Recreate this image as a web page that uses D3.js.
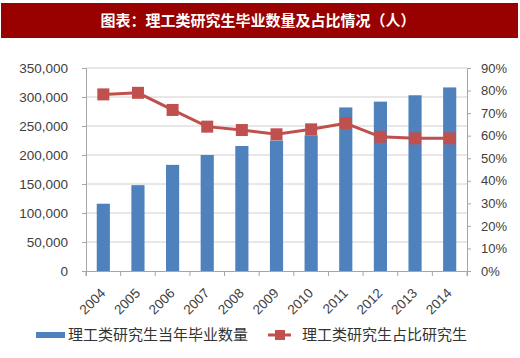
<!DOCTYPE html>
<html><head><meta charset="utf-8">
<script src="https://cdn.jsdelivr.net/npm/d3@7"></script>
<style>body{margin:0;background:#fff}svg{display:block}</style>
</head><body>
<svg id="c" width="520" height="358"></svg>
<script>
const years = ["2004","2005","2006","2007","2008","2009","2010","2011","2012","2013","2014"];
const graduates = [116000,148000,183000,200000,215500,225000,234000,282000,292000,303000,316500];
const shares = [78.3,79.0,71.4,64.0,62.5,60.6,62.8,65.5,59.5,58.8,58.8];
const leftTicks = [0,50000,100000,150000,200000,250000,300000,350000];
const rightTicks = [0,10,20,30,40,50,60,70,80,90];
const title = "图表：理工类研究生毕业数量及占比情况（人）";
const legendBar = "理工类研究生当年毕业数量";
const legendLine = "理工类研究生占比研究生";

const svg = d3.select("#c");
const m = {l:86, r:467, t:68, b:271};
const x = d3.scaleBand().domain(years).range([m.l, m.r]).paddingInner(0.62).paddingOuter(0.31);
const xc = d3.scaleBand().domain(years).range([m.l, m.r]);
const y = d3.scaleLinear().domain([0,350000]).range([m.b, m.t]);
const y2 = d3.scaleLinear().domain([0,90]).range([m.b, m.t]);

// title bar
svg.append("rect").attr("x",1).attr("y",3).attr("width",517).attr("height",35).attr("fill","#990000");
svg.append("text").attr("x",258).attr("y",26).attr("text-anchor","middle")
  .attr("fill","#fff").attr("font-family","Noto Sans CJK SC").attr("font-weight","bold")
  .attr("font-size",15).text(title);

// gridlines
svg.append("g").selectAll("line").data(leftTicks.slice(1)).join("line")
  .attr("x1",m.l).attr("x2",m.r).attr("y1",d=>y(d)).attr("y2",d=>y(d))
  .attr("stroke","#d0d0d0").attr("stroke-width",1);

// bars
svg.append("g").selectAll("rect").data(years).join("rect")
  .attr("x",d=>x(d)).attr("width",x.bandwidth())
  .attr("y",(d,i)=>y(graduates[i])).attr("height",(d,i)=>m.b-y(graduates[i]))
  .attr("fill","#4F81BD");

// axes
const font = "Liberation Sans, Arial, sans-serif";
const la = svg.append("g").attr("transform",`translate(${m.l},0)`)
  .call(d3.axisLeft(y).tickValues(leftTicks).tickFormat(d3.format(",")).tickSize(4).tickPadding(14));
const ra = svg.append("g").attr("transform",`translate(${m.r},0)`)
  .call(d3.axisRight(y2).tickValues(rightTicks).tickFormat(d=>d+"%").tickSize(4).tickPadding(10));
const ba = svg.append("g").attr("transform",`translate(0,${m.b})`)
  .call(d3.axisBottom(xc).tickSize(5).tickFormat(""));
ba.selectAll(".tick").remove();
const bt = [m.l].concat(years.map(d=>xc(d)+xc.bandwidth()));
ba.selectAll("line.bt").data(bt).join("line").attr("class","bt")
  .attr("x1",d=>d).attr("x2",d=>d).attr("y1",0).attr("y2",5).attr("stroke","#a6a6a6");
[la,ra,ba].forEach(g=>{
  g.selectAll("path.domain").attr("stroke","#a6a6a6");
  g.selectAll(".tick line").attr("stroke","#a6a6a6");
  g.selectAll("text").attr("font-family",font).attr("font-size",13.5).attr("fill","#404040");
});
ra.selectAll("text").attr("font-size",13);

// x labels rotated
svg.append("g").selectAll("text").data(years).join("text")
  .attr("transform",d=>`translate(${xc(d)+xc.bandwidth()/2+3},${m.b+23}) rotate(-45)`)
  .attr("text-anchor","end").attr("font-family",font).attr("font-size",13.5).attr("fill","#404040")
  .text(d=>d);

// line
const line = d3.line().x((d,i)=>xc(years[i])+xc.bandwidth()/2).y(d=>y2(d));
svg.append("path").datum(shares).attr("d",line).attr("fill","none")
  .attr("stroke","#C0504D").attr("stroke-width",3);
svg.append("g").selectAll("rect").data(shares).join("rect")
  .attr("x",(d,i)=>xc(years[i])+xc.bandwidth()/2-6).attr("y",d=>y2(d)-6)
  .attr("width",12).attr("height",12).attr("fill","#C0504D");

// legend
const lg = svg.append("g");
lg.append("rect").attr("x",36).attr("y",332).attr("width",29).attr("height",6).attr("fill","#4F81BD");
lg.append("text").attr("x",68).attr("y",340).attr("font-family","Noto Sans CJK SC").attr("font-size",15)
  .attr("fill","#333").text(legendBar);
lg.append("line").attr("x1",268).attr("x2",291).attr("y1",335).attr("y2",335).attr("stroke","#C0504D").attr("stroke-width",3);
lg.append("rect").attr("x",275).attr("y",330).attr("width",10).attr("height",10).attr("fill","#C0504D");
lg.append("text").attr("x",302).attr("y",340).attr("font-family","Noto Sans CJK SC").attr("font-size",15)
  .attr("fill","#333").text(legendLine);
</script>
</body></html>
